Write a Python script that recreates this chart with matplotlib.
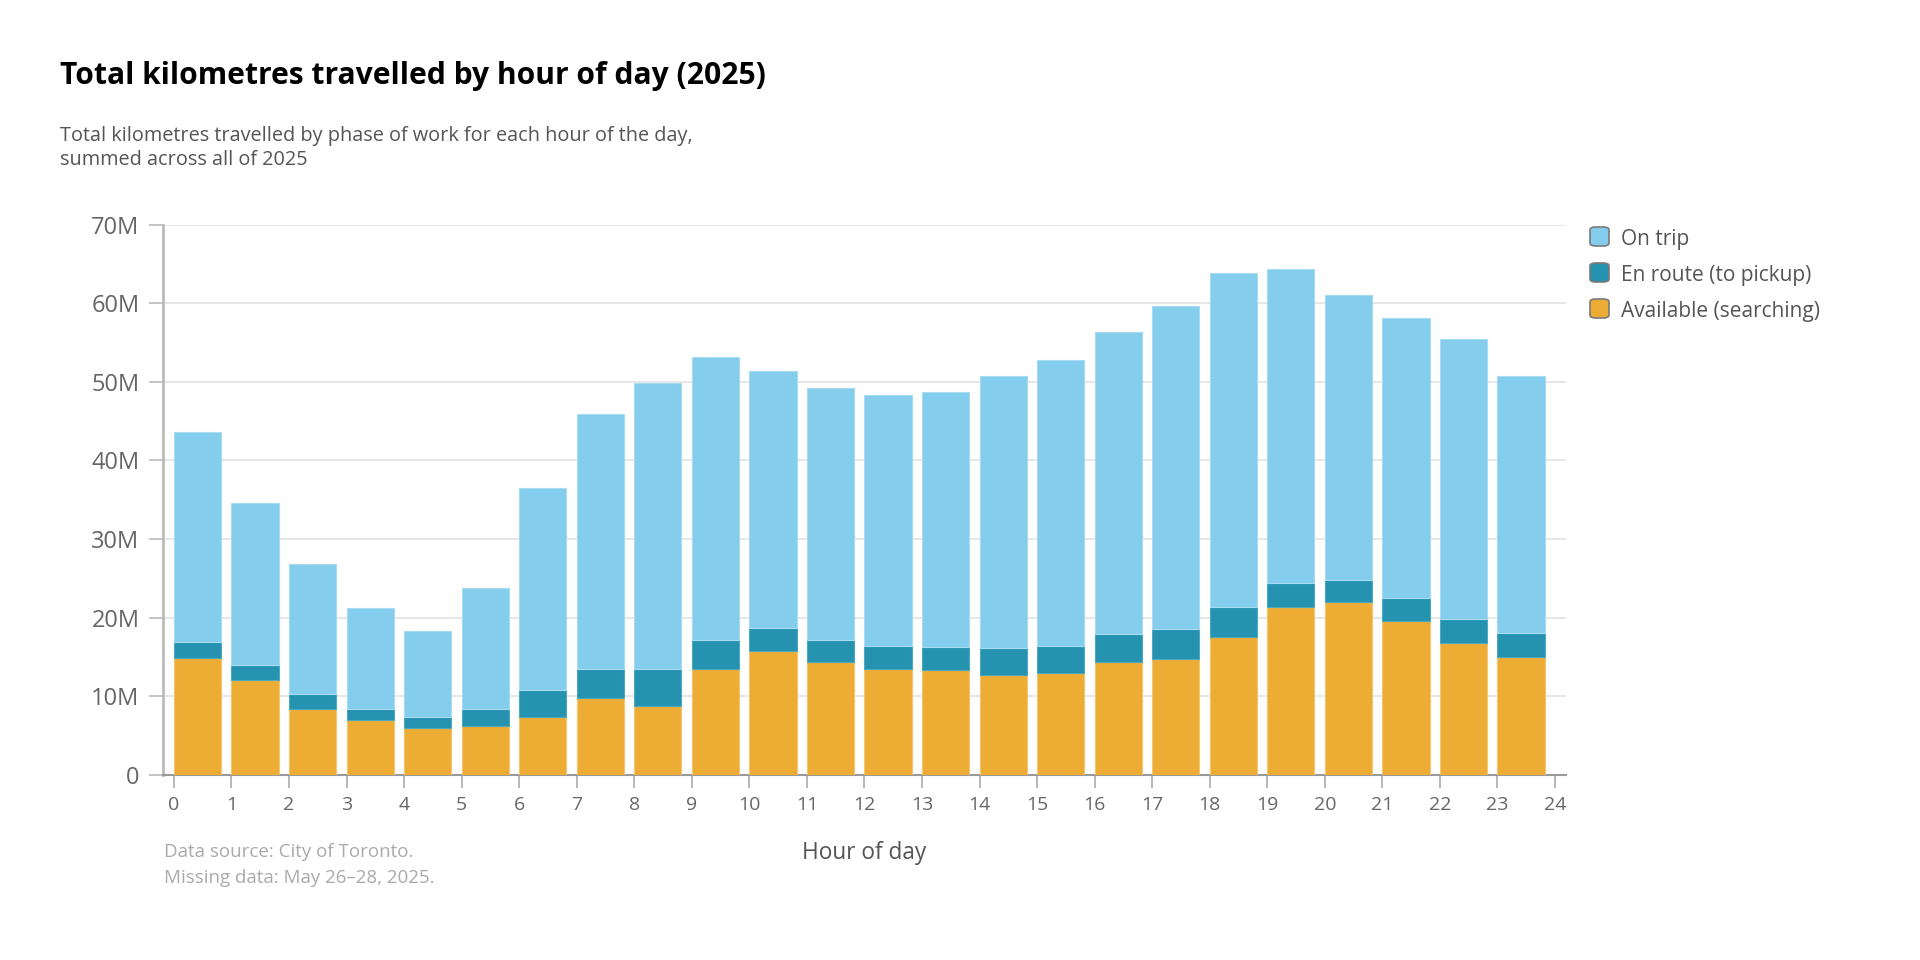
import matplotlib
matplotlib.use("Agg")
import matplotlib.pyplot as plt
from matplotlib.patches import FancyBboxPatch
from matplotlib.ticker import FuncFormatter
import numpy as np

# ─── data (millions of km) ─────────────────────────────────────────
hours = list(range(24))
available = [14.8, 12.1, 8.3, 6.9, 5.9, 6.2, 7.4, 9.7, 8.7, 13.5, 15.7, 14.3,
             13.5, 13.3, 12.7, 12.9, 14.4, 14.7, 17.5, 21.3, 22.0, 19.6, 16.7, 15.0]
en_route = [2.05, 1.85, 2.0, 1.5, 1.4, 2.1, 3.4, 3.8, 4.7, 3.7, 3.0, 2.9,
            2.9, 3.0, 3.4, 3.5, 3.5, 3.8, 3.8, 3.1, 2.8, 2.9, 3.1, 3.0]
on_trip = [26.75, 20.65, 16.5, 12.8, 11.0, 15.4, 25.7, 32.4, 36.5, 36.0, 32.7, 32.0,
           31.9, 32.4, 34.6, 36.4, 38.5, 41.2, 42.5, 39.9, 36.2, 35.6, 35.7, 32.8]
series_names = ["On trip", "En route (to pickup)", "Available (searching)"]
colors = ["#85CDED", "#2592B0", "#EDAC33"]

plt.rcParams["font.family"] = ["Open Sans", "DejaVu Sans"]

fig = plt.figure(figsize=(19.2, 9.6), dpi=100)
ax = fig.add_axes([0.0849, 0.193, 0.7307, 0.573])

x = np.array(hours)
avail = np.array(available) * 1e6
enr = np.array(en_route) * 1e6
trip = np.array(on_trip) * 1e6
w = 0.82
ax.bar(x, avail, width=w, align="edge", color=colors[2], edgecolor="#F3C56E", linewidth=0.8, zorder=3)
ax.bar(x, enr, width=w, align="edge", bottom=avail, color=colors[1], edgecolor="#4DA8C2", linewidth=0.8, zorder=3)
ax.bar(x, trip, width=w, align="edge", bottom=avail + enr, color=colors[0], edgecolor="#A8DCF3", linewidth=0.8, zorder=3)

ax.set_xlim(-0.19, 24.19)
ax.set_ylim(0, 70e6)
ax.set_yticks(np.arange(0, 71e6, 10e6))
ax.yaxis.set_major_formatter(FuncFormatter(lambda v, p: "0" if v == 0 else f"{int(v / 1e6)}M"))
ax.set_xticks(range(25))
ax.grid(axis="y", color="#E3E3E3", linewidth=1.2, zorder=0)

for s in ["top", "right"]:
    ax.spines[s].set_visible(False)
ax.spines["left"].set_color("#BBBBBB")
ax.spines["left"].set_linewidth(2)
ax.spines["bottom"].set_color("#999999")
ax.spines["bottom"].set_linewidth(1.5)
ax.tick_params(axis="y", length=10, width=1.2, color="#BBBBBB", labelsize=17, labelcolor="#666666", pad=7)
ax.tick_params(axis="x", length=9, width=1.2, color="#AAAAAA", labelsize=14, labelcolor="#666666", pad=6)

ax.set_xlabel("Hour of day", fontsize=16.3, color="#555555", labelpad=20)

# titles
fig.text(0.031, 0.921, "Total kilometres travelled by hour of day (2025)",
         fontsize=21.6, fontweight="bold", color="black", va="center")
fig.text(0.031, 0.858, "Total kilometres travelled by phase of work for each hour of the day,",
         fontsize=14.3, color="#555555", va="center")
fig.text(0.031, 0.833, "summed across all of 2025",
         fontsize=14.3, color="#555555", va="center")

# footnote
fig.text(0.0855, 0.113, "Data source: City of Toronto.", fontsize=13.5, color="#AAAAAA", va="center")
fig.text(0.0855, 0.085, "Missing data: May 26–28, 2025.", fontsize=13.5, color="#AAAAAA", va="center")

# legend (rounded swatches)
W, H = 1920, 960
for i, (name, c) in enumerate(zip(series_names, colors)):
    yc = 236.5 + 36 * i
    box = FancyBboxPatch(((1590) / W, (H - yc - 9.5) / H), 19 / W, 19 / H,
                         boxstyle="round,pad=0,rounding_size=0.003",
                         transform=fig.transFigure, facecolor=c,
                         edgecolor="#7A7A7A", linewidth=1.2)
    fig.patches.append(box)
    fig.text(1621 / W, (H - yc - 3) / H, name, fontsize=15, color="#555555", va="center")

fig.savefig("out.png", dpi=100)
